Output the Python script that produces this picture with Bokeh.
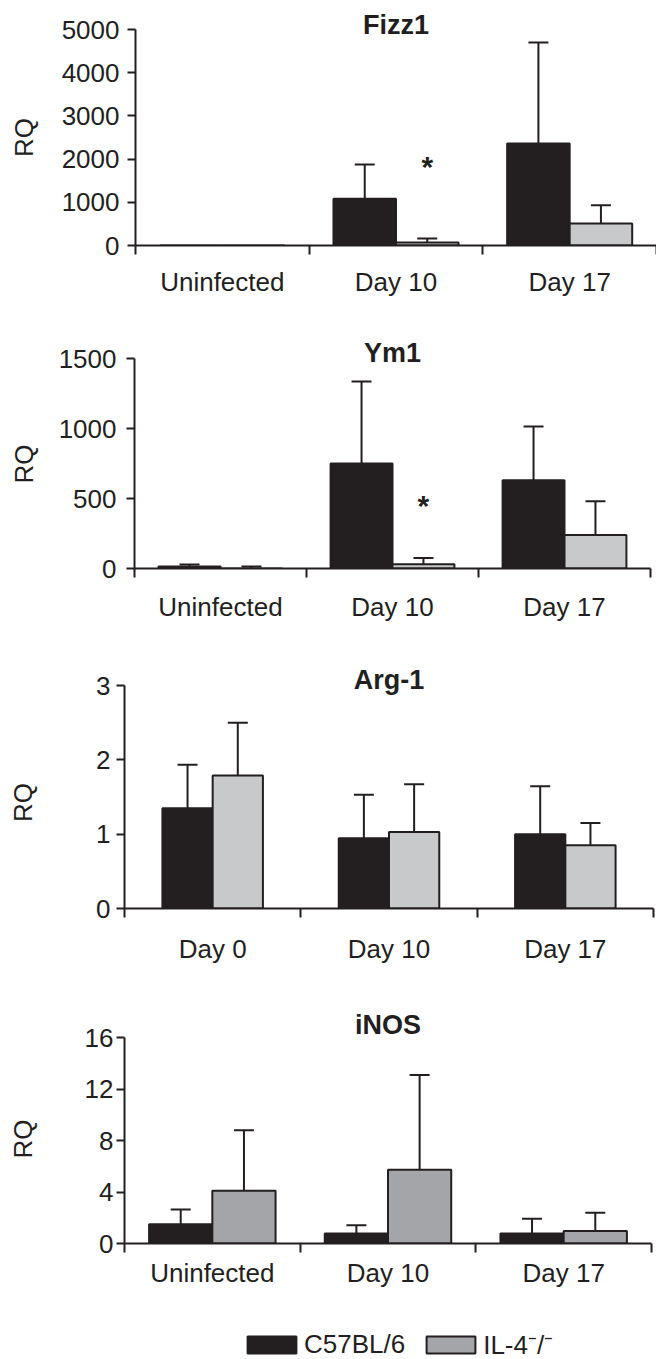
import numpy as np
from bokeh.plotting import figure
from bokeh.models import (ColumnDataSource, FixedTicker, Label, Whisker, TeeHead,
                          Range1d, Legend, LegendItem)
from bokeh.layouts import column
from bokeh.embed import file_html
from bokeh.resources import INLINE
from bokeh.core.properties import value

FONT = "Liberation Sans"
INK = "#231f20"
LIGHT = "#c8c9cb"
MID = "#a4a5a8"
NBSP = "\u00a0"

# ---------------- data ----------------
infection_groups = ["Uninfected", "Day 10", "Day 17"]
arg1_groups = ["Day 0", "Day 10", "Day 17"]
series_names = ["C57BL/6", "IL-4\u207b/\u207b"]

fizz1_c57 = [0, 1080, 2360]
fizz1_c57_err = [0, 795, 2340]
fizz1_il4 = [0, 70, 510]
fizz1_il4_err = [0, 90, 420]
fizz1_il4_err_low = [0, 0, 0]
fizz1_star = [None, 1830, None]
fizz1_ticks = [0, 1000, 2000, 3000, 4000, 5000]

ym1_c57 = [14, 750, 630]
ym1_c57_err = [14, 586, 385]
ym1_il4 = [0, 30, 240]
ym1_il4_err = [14, 45, 240]
ym1_il4_err_low = [0, 0, 150]
ym1_star = [None, 450, None]
ym1_ticks = [0, 500, 1000, 1500]

arg1_c57 = [1.35, 0.945, 1.00]
arg1_c57_err = [0.585, 0.585, 0.645]
arg1_il4 = [1.79, 1.03, 0.85]
arg1_il4_err = [0.71, 0.64, 0.30]
arg1_il4_err_low = [0, 0, 0]
arg1_star = [None, None, None]
arg1_ticks = [0, 1, 2, 3]

inos_c57 = [1.50, 0.78, 0.78]
inos_c57_err = [1.14, 0.64, 1.14]
inos_il4 = [4.09, 5.72, 0.98]
inos_il4_err = [4.71, 7.36, 1.40]
inos_il4_err_low = [0, 0, 0]
inos_star = [None, None, None]
inos_ticks = [0, 4, 8, 12, 16]


def whisker(p, xs, base_vals, errs, up=True):
    rows = [(x, b, e) for x, b, e in zip(xs, base_vals, errs) if e > 0]
    if not rows:
        return
    src = ColumnDataSource(dict(
        x=[r[0] for r in rows],
        lo=[r[1] if up else r[1] - r[2] for r in rows],
        hi=[r[1] + r[2] if up else r[1] for r in rows]))
    head = TeeHead(size=20, line_width=2, line_color=INK)
    w = Whisker(source=src, base="x", lower="lo", upper="hi", dimension="height",
                line_width=2, line_color=INK,
                upper_head=head if up else None,
                lower_head=None if up else head)
    p.add_layout(w)


def make_panel(title, groups, c57, c57_err, il4, il4_err, il4_err_low, star, yticks,
               il4_color, height, frame_left, frame_right, border_bottom, top_gap,
               title_raise, bar_w, tick_standoff, label_standoff, x_label_standoff,
               rq_pad):
    frame_h = height - border_bottom
    y_top = yticks[-1] * frame_h / (frame_h - top_gap)
    per_px = y_top / frame_h
    n = len(groups)
    p = figure(width=656, height=height, x_range=Range1d(0, n), y_range=Range1d(0, y_top),
               output_backend="svg", toolbar_location=None, title=None,
               min_border_left=frame_left, min_border_right=frame_right,
               min_border_top=0, min_border_bottom=border_bottom, frame_align=False)
    p.grid.visible = False
    p.outline_line_color = None

    xc = np.arange(n) + 0.5
    x1 = xc - bar_w / 2
    x2 = xc + bar_w / 2
    p.vbar(x=x1, top=c57, width=bar_w, fill_color=INK, line_color=INK, line_width=2)
    p.vbar(x=x2, top=il4, width=bar_w, fill_color=il4_color, line_color=INK, line_width=2)

    whisker(p, x1, c57, c57_err, up=True)
    whisker(p, x2, il4, il4_err, up=True)
    whisker(p, x2, il4, il4_err_low, up=False)

    sx = [x for x, s in zip(x2, star) if s is not None]
    sy = [s for s in star if s is not None]
    if sx:
        p.text(x=sx, y=sy, text=["*"] * len(sx), text_font=value(FONT),
               text_font_style="bold", text_font_size="30px", text_color=INK,
               text_align="center", text_baseline="middle")

    p.add_layout(Label(x=n / 2, y=yticks[-1] + title_raise * per_px, text=title,
                       text_align="center", text_baseline="middle", text_font=FONT,
                       text_font_size="27px", text_font_style="bold", text_color=INK))

    xa = p.xaxis[0]
    xa.ticker = FixedTicker(ticks=list(xc), minor_ticks=list(range(n + 1)))
    xa.major_label_overrides = {float(x): g for x, g in zip(xc, groups)}
    xa.major_tick_out = 0
    xa.major_tick_in = 0
    xa.minor_tick_out = 9
    xa.minor_tick_in = 0
    xa.minor_tick_line_width = 2
    xa.minor_tick_line_color = INK
    xa.axis_line_width = 2
    xa.axis_line_color = INK
    xa.major_label_text_font = FONT
    xa.major_label_text_font_size = "26px"
    xa.major_label_text_color = INK
    xa.major_label_standoff = x_label_standoff

    ya = p.yaxis[0]
    ya.ticker = FixedTicker(ticks=yticks)
    ya.bounds = (0, yticks[-1])
    ya.major_tick_out = 8
    ya.major_tick_in = 0
    ya.major_tick_line_width = 2
    ya.major_tick_line_color = INK
    ya.minor_tick_out = 0
    ya.minor_tick_in = 0
    ya.axis_line_width = 2
    ya.axis_line_color = INK
    ya.major_label_text_font = FONT
    ya.major_label_text_font_size = "26px"
    ya.major_label_text_color = INK
    ya.major_label_standoff = tick_standoff
    # trailing no-break spaces re-centre "RQ" on the tick span instead of the frame
    ya.axis_label = "RQ" + NBSP * rq_pad
    ya.axis_label_text_font = FONT
    ya.axis_label_text_font_size = "26px"
    ya.axis_label_text_font_style = "normal"
    ya.axis_label_text_color = INK
    ya.axis_label_standoff = label_standoff
    return p


p1 = make_panel("Fizz1", infection_groups, fizz1_c57, fizz1_c57_err, fizz1_il4,
                fizz1_il4_err, fizz1_il4_err_low, fizz1_star, fizz1_ticks, LIGHT,
                height=330, frame_left=135, frame_right=0, border_bottom=85,
                top_gap=29, title_raise=5, bar_w=0.36, tick_standoff=8,
                label_standoff=20, x_label_standoff=12, rq_pad=4)
p2 = make_panel("Ym1", infection_groups, ym1_c57, ym1_c57_err, ym1_il4,
                ym1_il4_err, ym1_il4_err_low, ym1_star, ym1_ticks, LIGHT,
                height=330, frame_left=134, frame_right=6, border_bottom=92,
                top_gap=28, title_raise=6, bar_w=0.36, tick_standoff=10,
                label_standoff=17, x_label_standoff=14, rq_pad=4)
p3 = make_panel("Arg-1", arg1_groups, arg1_c57, arg1_c57_err, arg1_il4,
                arg1_il4_err, arg1_il4_err_low, arg1_star, arg1_ticks, LIGHT,
                height=345, frame_left=124, frame_right=3, border_bottom=97,
                top_gap=25, title_raise=6, bar_w=0.285, tick_standoff=6,
                label_standoff=55, x_label_standoff=16, rq_pad=5)
p4 = make_panel("iNOS", infection_groups, inos_c57, inos_c57_err, inos_il4,
                inos_il4_err, inos_il4_err_low, inos_star, inos_ticks, MID,
                height=300, frame_left=124, frame_right=5, border_bottom=62,
                top_gap=32, title_raise=13, bar_w=0.36, tick_standoff=3,
                label_standoff=44, x_label_standoff=5, rq_pad=4)

# legend strip: hidden proxy renderers carry the two series' bar styles
pl = figure(width=656, height=54, x_range=Range1d(0, 1), y_range=Range1d(0, 1),
            output_backend="svg", toolbar_location=None, title=None,
            x_axis_type=None, y_axis_type=None, min_border=0, frame_align=False)
pl.outline_line_color = None
pl.grid.visible = False
key_c57 = pl.vbar(x=[0.5], top=[1], width=0.5, fill_color=INK, line_color=INK,
                  line_width=2, visible=False)
key_il4 = pl.vbar(x=[0.5], top=[1], width=0.5, fill_color=MID, line_color=INK,
                  line_width=2, visible=False)
legend = Legend(items=[LegendItem(label=series_names[0], renderers=[key_c57]),
                       LegendItem(label=series_names[1], renderers=[key_il4])],
                location=(241, -3), orientation="horizontal", glyph_width=61,
                glyph_height=21, label_standoff=2, spacing=15, padding=0, margin=0,
                click_policy="none", inactive_fill_alpha=0,
                border_line_color=None, background_fill_alpha=0,
                label_text_font=FONT, label_text_font_size="26px", label_text_color=INK)
pl.add_layout(legend)

layout = column(p1, p2, p3, p4, pl, spacing=0)
open("out.html", "w").write(file_html(layout, INLINE))
